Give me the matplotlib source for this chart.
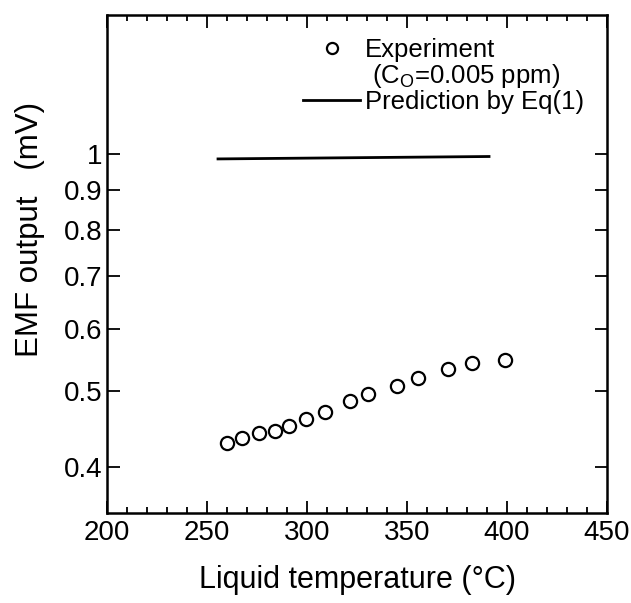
import matplotlib
matplotlib.use('Agg')
import matplotlib.pyplot as plt
from matplotlib.ticker import FixedLocator, NullLocator, MultipleLocator, FixedFormatter
from matplotlib.lines import Line2D

plt.rcParams['font.family'] = ['Liberation Sans', 'DejaVu Sans']

temp_exp = [259.8, 267.7, 276.0, 283.8, 290.8, 299.3, 308.8, 321.3,
            330.7, 345.0, 355.7, 370.7, 382.3, 399.2]
emf_exp = [0.430, 0.436, 0.442, 0.445, 0.451, 0.461, 0.470, 0.486,
           0.495, 0.507, 0.520, 0.533, 0.542, 0.548]

# Prediction by Eq(1)
temp_pred = [255.5, 391.0]
emf_pred = [0.985, 0.992]

y_ticks = [0.4, 0.5, 0.6, 0.7, 0.8, 0.9, 1.0]
y_tick_labels = ['0.4', '0.5', '0.6', '0.7', '0.8', '0.9', '1']

fig = plt.figure(figsize=(6.31, 6.03), dpi=100)
ax = fig.add_axes([0.1696, 0.1493, 0.7924, 0.8258])

ax.plot(temp_exp, emf_exp, linestyle='none', marker='o', markersize=9.5,
        markerfacecolor='white', markeredgecolor='black', markeredgewidth=1.6)
ax.plot(temp_pred, emf_pred, color='black', linewidth=2)

ax.set_yscale('log')
ax.set_xlim(200, 450)
ax.set_ylim(0.35, 1.5)

ax.xaxis.set_major_locator(MultipleLocator(50))
ax.xaxis.set_minor_locator(MultipleLocator(10))
ax.yaxis.set_major_locator(FixedLocator(y_ticks))
ax.yaxis.set_major_formatter(FixedFormatter(y_tick_labels))
ax.yaxis.set_minor_locator(NullLocator())

ax.tick_params(which='both', direction='in', top=True, right=True, width=1.3)
ax.tick_params(which='major', length=9, labelsize=20)
ax.tick_params(axis='x', which='major', pad=5)
ax.tick_params(axis='y', which='major', pad=3)
ax.tick_params(which='minor', length=4)
for s in ax.spines.values():
    s.set_linewidth(1.8)

ax.set_xlabel('Liquid temperature (°C)', fontsize=22, labelpad=14)
ax.set_ylabel('EMF output   (mV)', fontsize=22.5)
ax.yaxis.set_label_coords(-0.125, 0.57)

handles = [
    Line2D([], [], linestyle='none', marker='o', markersize=8,
           markerfacecolor='white', markeredgecolor='black', markeredgewidth=1.6),
    Line2D([], [], linestyle='none'),
    Line2D([], [], color='black', linewidth=2),
]
labels = ['Experiment', ' (C$_\\mathregular{O}$=0.005 ppm)', 'Prediction by Eq(1)']
ax.legend(handles, labels, loc='upper right', bbox_to_anchor=(0.99, 0.99),
          frameon=False, fontsize=18.5, handlelength=2.2, handletextpad=0.2,
          labelspacing=0.0, borderaxespad=0.3)

fig.savefig('out.png', dpi=100)
